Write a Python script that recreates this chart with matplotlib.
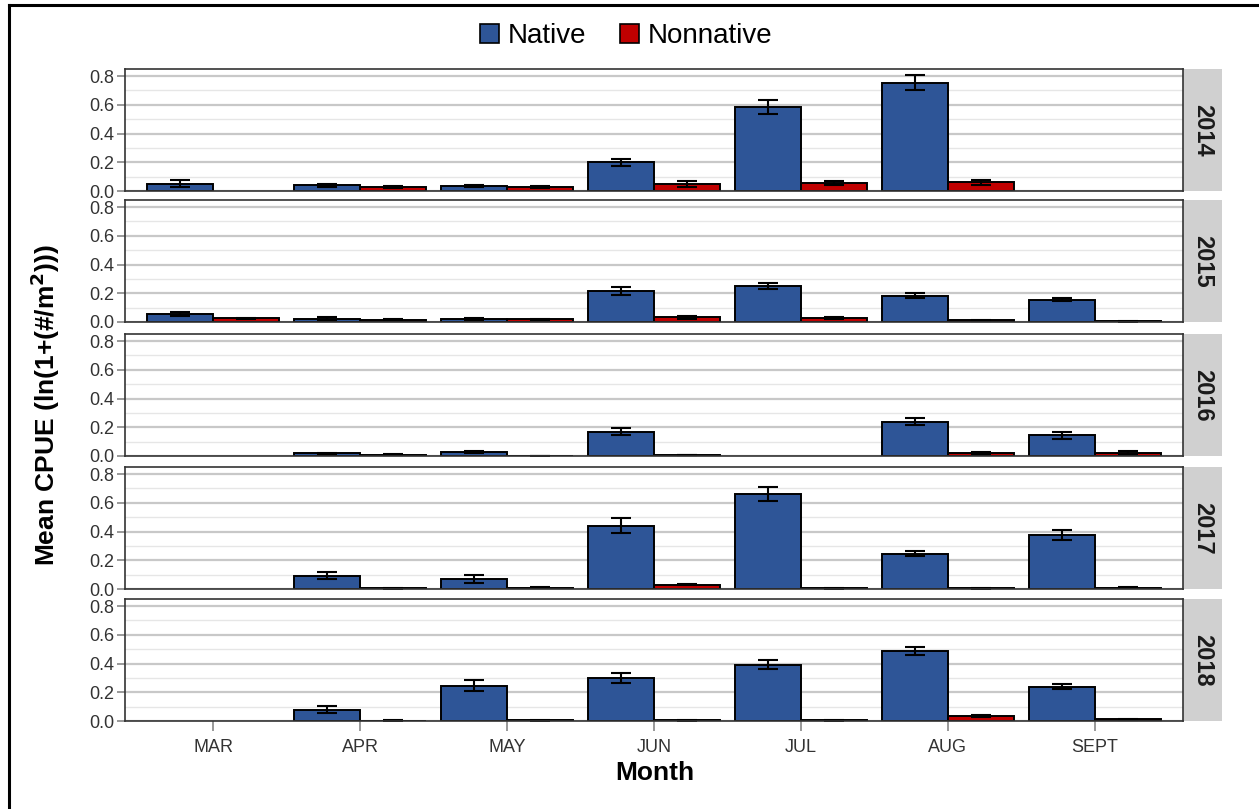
import matplotlib
matplotlib.use('Agg')
import matplotlib.pyplot as plt
import numpy as np
from matplotlib.patches import Rectangle
from matplotlib.lines import Line2D

plt.rcParams['font.family'] = ['Liberation Sans', 'DejaVu Sans']

# data (nan = no sample)
months = ["MAR", "APR", "MAY", "JUN", "JUL", "AUG", "SEPT"]
years = ["2014", "2015", "2016", "2017", "2018"]
nan = np.nan

native = [
    [0.05, 0.04, 0.035, 0.20, 0.585, 0.755, nan],
    [0.057, 0.023, 0.023, 0.216, 0.25, 0.184, 0.154],
    [nan, 0.018, 0.028, 0.17, nan, 0.237, 0.143],
    [nan, 0.092, 0.069, 0.441, 0.66, 0.246, 0.375],
    [nan, 0.078, 0.246, 0.30, 0.393, 0.485, 0.239],
]
native_se = [
    [0.025, 0.01, 0.01, 0.023, 0.048, 0.054, nan],
    [0.012, 0.015, 0.008, 0.03, 0.02, 0.015, 0.01],
    [nan, 0.006, 0.005, 0.027, nan, 0.024, 0.025],
    [nan, 0.023, 0.027, 0.05, 0.047, 0.018, 0.034],
    [nan, 0.023, 0.038, 0.037, 0.03, 0.029, 0.018],
]
nonnative = [
    [nan, 0.03, 0.03, 0.05, 0.055, 0.06, nan],
    [0.025, 0.016, 0.018, 0.034, 0.028, 0.012, 0.005],
    [nan, 0.009, 0.002, 0.007, nan, 0.02, 0.02],
    [nan, 0.005, 0.01, 0.03, 0.005, 0.004, 0.01],
    [nan, 0.003, 0.005, 0.005, 0.004, 0.037, 0.012],
]
nonnative_se = [
    [nan, 0.008, 0.008, 0.02, 0.015, 0.015, nan],
    [0.006, 0.005, 0.006, 0.01, 0.008, 0.005, 0.002],
    [nan, 0.003, 0.001, 0.002, nan, 0.008, 0.015],
    [nan, 0.002, 0.004, 0.005, 0.002, 0.002, 0.003],
    [nan, 0.001, 0.002, 0.002, 0.002, 0.007, 0.004],
]

blue = "#2E5597"
red = "#C00000"

W, H = 1259, 809
fig = plt.figure(figsize=(W / 100, H / 100), dpi=100)

left, right = 125, 1183
tops = [69, 200, 334, 467, 599]
panel_h = 122
strip_w = 39
x = np.arange(len(months))
bw = 0.45

for i, yr in enumerate(years):
    top = tops[i]
    ax = fig.add_axes([left / W, 1 - (top + panel_h) / H, (right - left) / W, panel_h / H])
    ax.set_xlim(-0.6, len(months) - 0.4)
    ax.set_ylim(0, 0.849)
    ax.set_yticks([0, 0.2, 0.4, 0.6, 0.8])
    ax.set_yticks([0.1, 0.3, 0.5, 0.7], minor=True)
    ax.set_yticklabels(["0.0", "0.2", "0.4", "0.6", "0.8"], fontsize=13, color="#333333")
    ax.grid(axis='y', which='major', color="#c8c8c8", linewidth=1.6)
    ax.grid(axis='y', which='minor', color="#e6e6e6", linewidth=1.0)
    ax.set_axisbelow(True)
    ax.tick_params(axis='y', which='major', length=6, color="#888888", width=1.2, pad=2)
    ax.tick_params(axis='y', which='minor', length=0)
    for s in ax.spines.values():
        s.set_color("#333333")
        s.set_linewidth(1.2)

    ax.bar(x - bw / 2, native[i], bw, color=blue, edgecolor="black", linewidth=1.4,
           yerr=native_se[i], error_kw=dict(ecolor="black", elinewidth=1.5, capsize=7.5, capthick=1.5))
    ax.bar(x + bw / 2, nonnative[i], bw, color=red, edgecolor="black", linewidth=1.4,
           yerr=nonnative_se[i], error_kw=dict(ecolor="black", elinewidth=1.5, capsize=7.5, capthick=1.5))

    ax.set_xticks(x)
    if i == len(years) - 1:
        ax.set_xticklabels(months, fontsize=13, color="#333333")
        ax.tick_params(axis='x', length=7, color="#888888", width=1.2, pad=6)
    else:
        ax.tick_params(axis='x', length=0, labelbottom=False)

    # facet strip on the right
    sw = strip_w / (right - left)
    ax.add_patch(Rectangle((1.0, 0), sw, 1, transform=ax.transAxes, facecolor="#d0d0d0",
                           edgecolor="none", clip_on=False))
    ax.text(1 + sw / 2, 0.5, yr, transform=ax.transAxes, rotation=270, ha='center', va='center',
            fontsize=17, fontweight='bold', color="#1a1a1a")

fig.text(45 / W, 1 - 405 / H, "Mean CPUE (ln(1+(#/m$^\\mathbf{2}$)))", rotation=90, ha='center', va='center',
         fontsize=19, fontweight='bold')
fig.text(655 / W, 1 - 773 / H, "Month", ha='center', va='center', fontsize=19, fontweight='bold')

handles = [Rectangle((0, 0), 1, 1, facecolor=blue, edgecolor="black", linewidth=1.2),
           Rectangle((0, 0), 1, 1, facecolor=red, edgecolor="black", linewidth=1.2)]
fig.legend(handles, ["Native", "Nonnative"], loc='center', bbox_to_anchor=(626 / W, 1 - 36 / H),
           ncol=2, frameon=False, fontsize=20, handlelength=0.7, handleheight=0.7,
           handletextpad=0.3, columnspacing=1.2)

# outer frame (left and top edges visible)
fig.add_artist(Line2D([9 / W, 9 / W], [0, 1 - 5 / H], color="black", linewidth=2.2))
fig.add_artist(Line2D([9 / W, 1], [1 - 5 / H, 1 - 5 / H], color="black", linewidth=2.2))

fig.savefig("out.png", dpi=100)
